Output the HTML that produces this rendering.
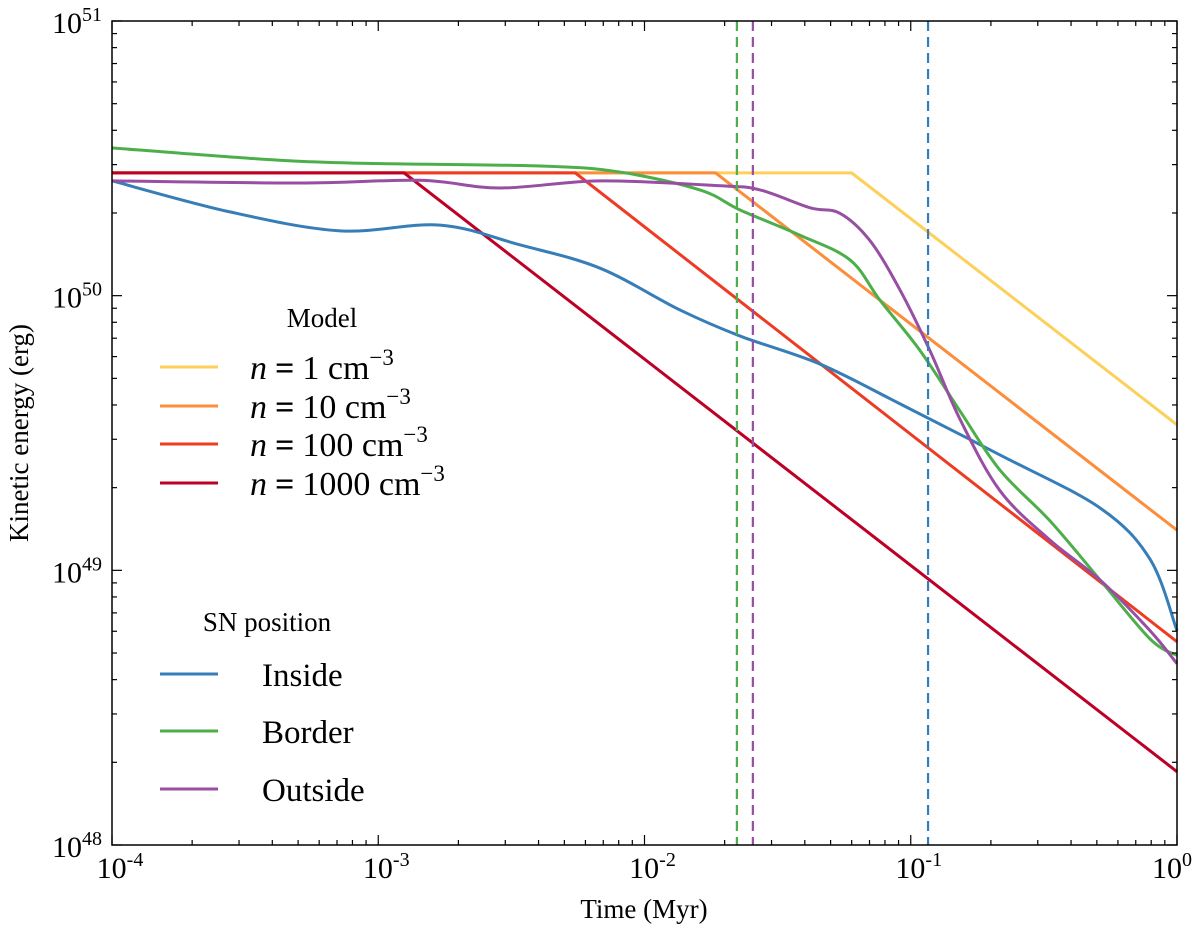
<!DOCTYPE html>
<html><head><meta charset="utf-8"><style>
body{margin:0;background:#fff}
svg{display:block;font-family:"Liberation Serif",serif}
</style></head><body>
<svg id="chart" width="1200" height="928"></svg>
<script>
// data (log10 values)
const modelNames=["n1","n10","n100","n1000"];
const modelColors=["#fcd05a","#fc8d3b","#ee3b24","#bd0026"];
const modelPlateau=[50.447,50.447,50.447,50.447];
const modelBreakLogT=[-1.222,-1.733,-2.26,-2.903];
const modelEndLogE=[49.53,49.146,48.74,48.267];
const insideLogT=[-4,-3.557,-3.144,-2.768,-2.468,-2.167,-1.867,-1.641,-1.341,-1.04,-0.665,-0.289,-0.101,0];
const insideLogE=[50.418,50.305,50.236,50.257,50.185,50.10,49.948,49.853,49.751,49.606,49.42,49.227,49.04,48.78];
const borderLogT=[-4,-3.482,-3.106,-2.393,-2.092,-1.792,-1.641,-1.416,-1.228,-1.116,-0.965,-0.815,-0.665,-0.477,-0.289,-0.101,0];
const borderLogE=[50.538,50.50,50.483,50.472,50.45,50.385,50.312,50.22,50.13,49.984,49.80,49.58,49.365,49.18,48.965,48.75,48.69];
const outsideLogT=[-4,-3.294,-2.843,-2.543,-2.167,-1.716,-1.566,-1.378,-1.266,-1.153,-1.04,-0.928,-0.815,-0.665,-0.477,-0.289,-0.101,0];
const outsideLogE=[50.418,50.41,50.42,50.392,50.418,50.40,50.385,50.32,50.30,50.2,50.02,49.80,49.55,49.29,49.11,48.965,48.78,48.66];
const vlineLogT=[-1.653,-1.593,-0.935];
const vlineColors=["#4daf4a","#984ea3","#377eb8"];
const xTickExp=[-4,-3,-2,-1,0];
const yTickExp=[48,49,50,51];

const L=112,R=1177,T=21,B=845;
const X=v=>L+(v+4)/4*(R-L);
const Y=v=>B-(v-48)/3*(B-T);
const svg=document.getElementById('chart');
const NS="http://www.w3.org/2000/svg";
function mk(tag,attrs,parent){const e=document.createElementNS(NS,tag);for(const k in attrs)e.setAttribute(k,attrs[k]);(parent||svg).appendChild(e);return e;}

modelNames.forEach((n,i)=>{
  const p=`M${X(-4)},${Y(modelPlateau[i])} L${X(modelBreakLogT[i])},${Y(modelPlateau[i])} L${X(0)},${Y(modelEndLogE[i])}`;
  const e=mk('path',{d:p,fill:'none',stroke:modelColors[i],'stroke-width':3});
  
  
});
function series(ts,es,color,name){
  const P=ts.map((t,i)=>[X(t),Y(es[i])]);
  let d='M'+P[0][0]+','+P[0][1];
  for(let i=0;i<P.length-1;i++){
    const p0=P[Math.max(0,i-1)],p1=P[i],p2=P[i+1],p3=P[Math.min(P.length-1,i+2)];
    const c1=[p1[0]+(p2[0]-p0[0])/6,p1[1]+(p2[1]-p0[1])/6];
    const c2=[p2[0]-(p3[0]-p1[0])/6,p2[1]-(p3[1]-p1[1])/6];
    d+=` C${c1[0]},${c1[1]} ${c2[0]},${c2[1]} ${p2[0]},${p2[1]}`;
  }
  const e=mk('path',{d:d,fill:'none',stroke:color,'stroke-width':3,'stroke-linejoin':'round'});
  
  
}
series(insideLogT,insideLogE,'#377eb8','inside-line');
series(borderLogT,borderLogE,'#4daf4a','border-line');
series(outsideLogT,outsideLogE,'#984ea3','outside-line');
vlineLogT.forEach((t,i)=>{
  const e=mk('line',{x1:X(t),x2:X(t),y1:T,y2:B,stroke:vlineColors[i],'stroke-width':2.2,'stroke-dasharray':'10,6'});
  
  
});
const fr=mk('rect',{x:L,y:T,width:R-L,height:B-T,fill:'none',stroke:'#000','stroke-width':1.5});


for(let d=-4;d<=0;d++){
  for(let m=1;m<10;m++){
    if(d===0&&m>1)break;
    const x=X(d+Math.log10(m));const len=m===1?10:5;
    mk('line',{x1:x,x2:x,y1:B,y2:B-len,stroke:'#000','stroke-width':1.2});
    mk('line',{x1:x,x2:x,y1:T,y2:T+len,stroke:'#000','stroke-width':1.2});
  }
}
for(let d=48;d<=51;d++){
  for(let m=1;m<10;m++){
    if(d===51&&m>1)break;
    const y=Y(d+Math.log10(m));const len=m===1?10:5;
    mk('line',{x1:L,x2:L+len,y1:y,y2:y,stroke:'#000','stroke-width':1.2});
    mk('line',{x1:R,x2:R-len,y1:y,y2:y,stroke:'#000','stroke-width':1.2});
  }
}
xTickExp.forEach(v=>{
  const t=mk('text',{x:v===0?X(v)-5:X(v)+8,y:878,'font-size':30,'text-anchor':'middle'});
  t.innerHTML=`10<tspan dy="-12" font-size="20">${v}</tspan>`;
  
  
});
yTickExp.forEach(v=>{
  const t=mk('text',{x:L-10,y:Y(v)+12,'font-size':30,'text-anchor':'end'});
  t.innerHTML=`10<tspan dy="-12" font-size="20">${v}</tspan>`;
  
  
});
const xl=mk('text',{x:644,y:918,'font-size':27,'text-anchor':'middle'});xl.textContent='Time (Myr)';


const yl=mk('text',{x:0,y:0,'font-size':27,'text-anchor':'middle',transform:'translate(28,433) rotate(-90)'});yl.textContent='Kinetic energy (erg)';


const g=mk('g',{});


mk('text',{x:322,y:327,'font-size':27,'text-anchor':'middle'},g).textContent='Model';
const mlab=['1','10','100','1000'];const my=[367,406,444,483];
mlab.forEach((s,i)=>{
  mk('line',{x1:160,x2:218,y1:my[i],y2:my[i],stroke:modelColors[i],'stroke-width':3},g);
  const t=mk('text',{x:250,y:my[i]+12,'font-size':34},g);
  t.innerHTML=`<tspan font-style="italic">n</tspan><tspan dx="8" font-weight="bold">=</tspan><tspan dx="8">${s}</tspan> cm<tspan dy="-14" font-size="23">−3</tspan>`;
  
  
});
mk('text',{x:267,y:631,'font-size':27,'text-anchor':'middle'},g).textContent='SN position';
const sl=['Inside','Border','Outside'];const sc=['#377eb8','#4daf4a','#984ea3'];const sy=[674,731,789];
sl.forEach((s,i)=>{
  mk('line',{x1:160,x2:218,y1:sy[i],y2:sy[i],stroke:sc[i],'stroke-width':3},g);
  const t=mk('text',{x:262,y:sy[i]+12,'font-size':33},g);t.textContent=s;
  
  
});
</script>
</body></html>
